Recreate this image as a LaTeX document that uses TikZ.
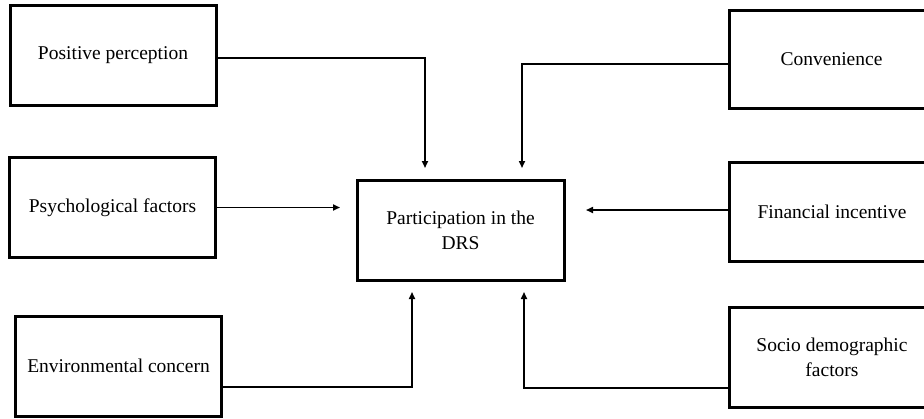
\documentclass[tikz,border=0pt]{standalone}
\usepackage{fontspec}
\setmainfont{Liberation Serif}
\usetikzlibrary{arrows.meta}

\tikzset{
  factor/.style={draw, line width=3pt, rectangle, align=center,
                 minimum width=206pt, minimum height=100pt, inner sep=0pt,
                 font=\fontsize{19.5}{25}\selectfont},
  link/.style={line width=1.6pt, -{Triangle[length=7pt,width=6pt]}}
}

\begin{document}
\begin{tikzpicture}[x=1pt,y=-1pt]

% Page size of the figure (one unit is one pixel of the original)
\useasboundingbox (0,0) rectangle (924,418);

% The outcome in the middle
\node[factor, minimum width=207pt] (drs) at (460.5,230)
  {Participation in the\\DRS};

% The factors on the left
\node[factor] (pos) at (113,55)    {Positive perception};
\node[factor] (psy) at (112.5,207.5) {Psychological factors};
\node[factor] (env) at (118.5,366) {Environmental concern};

% The factors on the right (their right border falls off the page)
\node[factor, minimum width=205pt, minimum height=98pt] (con) at (831.5,59)
  {Convenience};
\node[factor, minimum height=99pt] (fin) at (832,211.5) {Financial incentive};
\node[factor] (soc) at (832,357) {Socio demographic\\factors};

% Free ends of the arrows, a little away from the middle box
\coordinate (inPos) at (425,168);
\coordinate (inCon) at (522,168);
\coordinate (inPsy) at (340,207.5);
\coordinate (inFin) at (586,210);
\coordinate (inEnv) at (412,292);
\coordinate (inSoc) at (524,292);

% Arrows towards the outcome
\draw[link] ([yshift=-3pt]pos.east) -| (inPos);
\draw[link] ([yshift=-5pt]con.west) -| (inCon);
\draw[link] (psy.east) -- (inPsy);
\draw[link] ([yshift=1.5pt]fin.west) -- (inFin);
\draw[link] ([yshift=-21pt]env.east) -| (inEnv);
\draw[link] ([yshift=-31pt]soc.west) -| (inSoc);

\end{tikzpicture}
\end{document}
